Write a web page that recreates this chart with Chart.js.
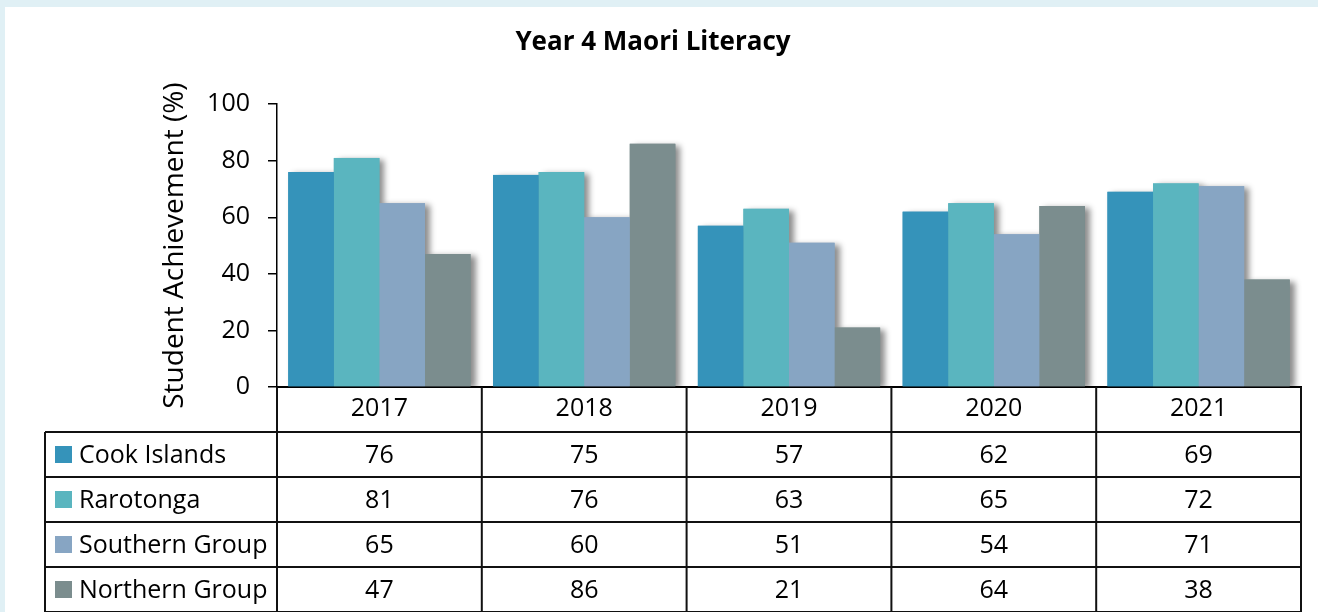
<!DOCTYPE html>
<html>
<head>
<meta charset="utf-8">
<script src="https://cdn.jsdelivr.net/npm/chart.js@4.4.1/dist/chart.umd.min.js"></script>
<style>
  html, body { margin: 0; padding: 0; background: #e0f0f5; }
  #wrap { position: absolute; left: 5px; top: 7px; width: 1313px; height: 605px; background: #fff; }
</style>
</head>
<body>
<div id="wrap"><canvas id="chart" width="1313" height="605"></canvas></div>
<script>
const years = ['2017', '2018', '2019', '2020', '2021'];
const cookIslands = [76, 75, 57, 62, 69];
const rarotonga = [81, 76, 63, 65, 72];
const southernGroup = [65, 60, 51, 54, 71];
const northernGroup = [47, 86, 21, 64, 38];
const seriesNames = ['Cook Islands', 'Rarotonga', 'Southern Group', 'Northern Group'];
const colors = ['#3593ba', '#5ab5bf', '#87a5c3', '#7b8d8e'];

const FONT = "'Open Sans', sans-serif";
Chart.defaults.font.family = FONT;
Chart.defaults.color = '#000';

// soft shadow behind the bars (drawn under all of them)
const barShadow = {
  id: 'barShadow',
  beforeDatasetsDraw(chart) {
    const ctx = chart.ctx;
    const a = chart.chartArea;
    ctx.save();
    ctx.beginPath();
    ctx.rect(a.left, a.top - 20, a.right - a.left + 20, a.bottom - a.top + 20);
    ctx.clip();
    ctx.shadowColor = 'rgba(0,0,0,0.45)';
    ctx.shadowBlur = 6;
    ctx.shadowOffsetX = 5;
    ctx.shadowOffsetY = 2;
    chart.data.datasets.forEach((ds, i) => {
      chart.getDatasetMeta(i).data.forEach(bar => {
        const p = bar.getProps(['x', 'y', 'base', 'width'], true);
        ctx.fillStyle = ds.backgroundColor;
        ctx.fillRect(p.x - p.width / 2, p.y, p.width, p.base - p.y);
      });
    });
    ctx.restore();
  }
};

// data table under the plot
const dataTable = {
  id: 'dataTable',
  afterDraw(chart) {
    const ctx = chart.ctx;
    const x = chart.scales.x;
    const top = chart.chartArea.bottom;
    const rowH = 45;
    const headBottom = top + rowH;
    const bottom = headBottom + rowH * 4;
    const colW = x.width / years.length;
    const legendLeft = 40;
    const rows = [cookIslands, rarotonga, southernGroup, northernGroup];

    ctx.save();
    ctx.strokeStyle = '#111';
    ctx.lineWidth = 2;
    ctx.beginPath();
    for (let i = 0; i <= years.length; i++) {
      const px = x.left + i * colW;
      ctx.moveTo(px, top);
      ctx.lineTo(px, bottom);
    }
    ctx.moveTo(legendLeft, headBottom);
    ctx.lineTo(legendLeft, bottom);
    for (let r = 0; r <= 4; r++) {
      const py = headBottom + r * rowH;
      ctx.moveTo(legendLeft, py);
      ctx.lineTo(x.right, py);
    }
    ctx.stroke();

    ctx.font = '25px ' + FONT;
    ctx.fillStyle = '#000';
    ctx.textBaseline = 'middle';
    rows.forEach((vals, r) => {
      const cy = headBottom + r * rowH + rowH / 2;
      ctx.fillStyle = colors[r];
      ctx.fillRect(legendLeft + 10, cy - 8.5, 17, 17);
      ctx.fillStyle = '#000';
      ctx.textAlign = 'left';
      ctx.fillText(seriesNames[r], legendLeft + 34, cy + 1);
      ctx.textAlign = 'center';
      vals.forEach((v, c) => {
        ctx.fillText(String(v), x.getPixelForValue(c), cy + 1);
      });
    });
    ctx.restore();
  }
};

new Chart(document.getElementById('chart'), {
  type: 'bar',
  data: {
    labels: years,
    datasets: [cookIslands, rarotonga, southernGroup, northernGroup].map((d, i) => ({
      label: seriesNames[i],
      data: d,
      backgroundColor: colors[i],
      borderWidth: 0,
      barPercentage: 1,
      categoryPercentage: 0.89
    }))
  },
  options: {
    responsive: false,
    animation: false,
    layout: { padding: { left: 0, right: 17, top: 0, bottom: 180 } },
    plugins: {
      legend: { display: false },
      tooltip: { enabled: false },
      title: {
        display: true,
        text: 'Year 4 Maori Literacy',
        font: { size: 26, weight: 'bold' },
        color: '#000',
        padding: { top: 20, bottom: 46 }
      }
    },
    scales: {
      x: {
        grid: { display: false, drawTicks: false },
        border: { display: true, color: '#000', width: 2 },
        ticks: { font: { size: 25 }, color: '#000', padding: 7 },
        afterFit(scale) { scale.height = 45; }
      },
      y: {
        min: 0,
        max: 100,
        ticks: { stepSize: 20, font: { size: 25 }, color: '#000', padding: 18 },
        grid: { drawOnChartArea: false, drawTicks: true, tickLength: 9, color: '#000', lineWidth: 1.5 },
        border: { display: true, color: '#000', width: 1.5 },
        title: {
          display: true,
          text: 'Student Achievement (%)',
          font: { size: 28 },
          color: '#000',
          padding: { top: 153 }
        },
        afterFit(scale) { scale.width = 272; }
      }
    }
  },
  plugins: [barShadow, dataTable]
});
</script>
</body>
</html>
